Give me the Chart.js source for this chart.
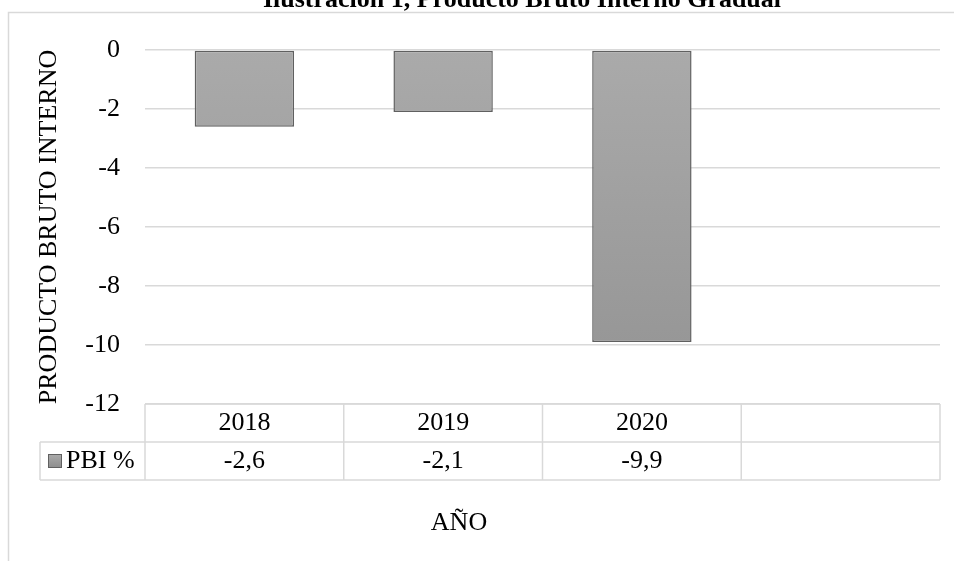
<!DOCTYPE html>
<html>
<head>
<meta charset="utf-8">
<script src="https://cdn.jsdelivr.net/npm/chart.js@4/dist/chart.umd.min.js"></script>
<style>
  html, body { margin: 0; padding: 0; background: #fff; }
  #wrap { width: 954px; height: 561px; }
</style>
</head>
<body>
<div id="wrap"><canvas id="pbiChart"></canvas></div>
<script>
// Datos del gráfico
const years = ['2018', '2019', '2020', ''];
const pbiValues = [-2.6, -2.1, -9.9, null];
const pbiLabels = ['-2,6', '-2,1', '-9,9', ''];
const seriesName = 'PBI %';
const yTicks = [0, -2, -4, -6, -8, -10, -12];

const SERIF = '"Liberation Serif", "Times New Roman", serif';
const GRID = '#d9d9d9';
const FS = 26;

function barFill(context) {
  const chart = context.chart;
  const area = chart.chartArea;
  if (!area) return '#a0a0a0';
  const el = context.element;
  const top = el && el.y != null ? Math.min(el.y, el.base) : area.top;
  const bottom = el && el.base != null ? Math.max(el.y, el.base) : area.bottom;
  const g = chart.ctx.createLinearGradient(0, top, 0, bottom + 1);
  g.addColorStop(0, '#aaaaaa');
  g.addColorStop(1, '#939393');
  return g;
}

// Marco, título, tabla de datos y título del eje X
const extras = {
  id: 'extras',
  beforeDraw(chart) {
    const ctx = chart.ctx;
    ctx.save();
    ctx.strokeStyle = GRID;
    ctx.lineWidth = 1.5;
    ctx.strokeRect(8.5, 12.5, 970, 570);
    ctx.restore();
  },
  afterDraw(chart) {
    const ctx = chart.ctx;
    const x = chart.scales.x;
    const area = chart.chartArea;
    const top = area.bottom;
    const mid = top + 38;
    const bot = mid + 38;
    const labelLeft = 40;

    ctx.save();
    ctx.strokeStyle = GRID;
    ctx.lineWidth = 1.5;
    ctx.beginPath();
    // horizontales
    ctx.moveTo(area.left, top); ctx.lineTo(area.right, top);
    ctx.moveTo(labelLeft, mid); ctx.lineTo(area.right, mid);
    ctx.moveTo(labelLeft, bot); ctx.lineTo(area.right, bot);
    // verticales
    ctx.moveTo(labelLeft, mid); ctx.lineTo(labelLeft, bot);
    const step = (area.right - area.left) / years.length;
    for (let i = 0; i <= years.length; i++) {
      const xx = area.left + step * i;
      ctx.moveTo(xx, top); ctx.lineTo(xx, bot);
    }
    ctx.stroke();

    ctx.fillStyle = '#000';
    ctx.font = FS + 'px ' + SERIF;
    ctx.textAlign = 'center';
    ctx.textBaseline = 'middle';
    years.forEach((y, i) => {
      const cx = x.getPixelForValue(i);
      ctx.fillText(y, cx, top + 19);
      ctx.fillText(pbiLabels[i], cx, mid + 19);
    });

    // leyenda en la tabla
    const sq = { x: 48.5, y: mid + 12.5, s: 13 };
    const g = ctx.createLinearGradient(0, sq.y, 0, sq.y + sq.s);
    g.addColorStop(0, '#aaaaaa');
    g.addColorStop(1, '#8e8e8e');
    ctx.fillStyle = g;
    ctx.fillRect(sq.x, sq.y, sq.s, sq.s);
    ctx.strokeStyle = '#606060';
    ctx.lineWidth = 1;
    ctx.strokeRect(sq.x, sq.y, sq.s, sq.s);
    ctx.fillStyle = '#000';
    ctx.textAlign = 'left';
    ctx.fillText(seriesName, 66, mid + 19);

    // título del eje X
    ctx.textAlign = 'center';
    ctx.fillText('AÑO', 459, 523);

    // título del gráfico (cortado arriba)
    ctx.font = 'bold ' + FS + 'px ' + SERIF;
    ctx.textBaseline = 'alphabetic';
    ctx.fillText('Ilustración 1, Producto Bruto Interno Gradual', 522, 7);
    ctx.restore();
  }
};

new Chart(document.getElementById('pbiChart'), {
  type: 'bar',
  data: {
    labels: years,
    datasets: [{
      label: seriesName,
      data: pbiValues,
      backgroundColor: barFill,
      borderColor: '#606060',
      borderWidth: 1.5,
      borderSkipped: false,
      categoryPercentage: 1,
      barPercentage: 0.5
    }]
  },
  options: {
    responsive: true,
    maintainAspectRatio: false,
    animation: false,
    events: [],
    layout: { padding: { top: 50, right: 14, bottom: 0, left: 0 } },
    plugins: {
      legend: { display: false },
      tooltip: { enabled: false }
    },
    scales: {
      x: {
        grid: { display: false },
        border: { display: false },
        ticks: { display: false },
        afterFit(scale) { scale.height = 157; }
      },
      y: {
        min: -12,
        max: 0,
        afterBuildTicks(scale) { scale.ticks = yTicks.map(v => ({ value: v })); },
        grid: { color: GRID, lineWidth: 1.5, drawTicks: false },
        border: { display: false },
        ticks: {
          color: '#000',
          font: { family: SERIF, size: FS },
          padding: 25
        },
        title: {
          display: true,
          text: 'PRODUCTO BRUTO INTERNO',
          color: '#000',
          font: { family: SERIF, size: FS },
          padding: { top: 34, bottom: 0 }
        },
        afterFit(scale) { scale.width = 145; }
      }
    }
  },
  plugins: [extras]
});
</script>
</body>
</html>
